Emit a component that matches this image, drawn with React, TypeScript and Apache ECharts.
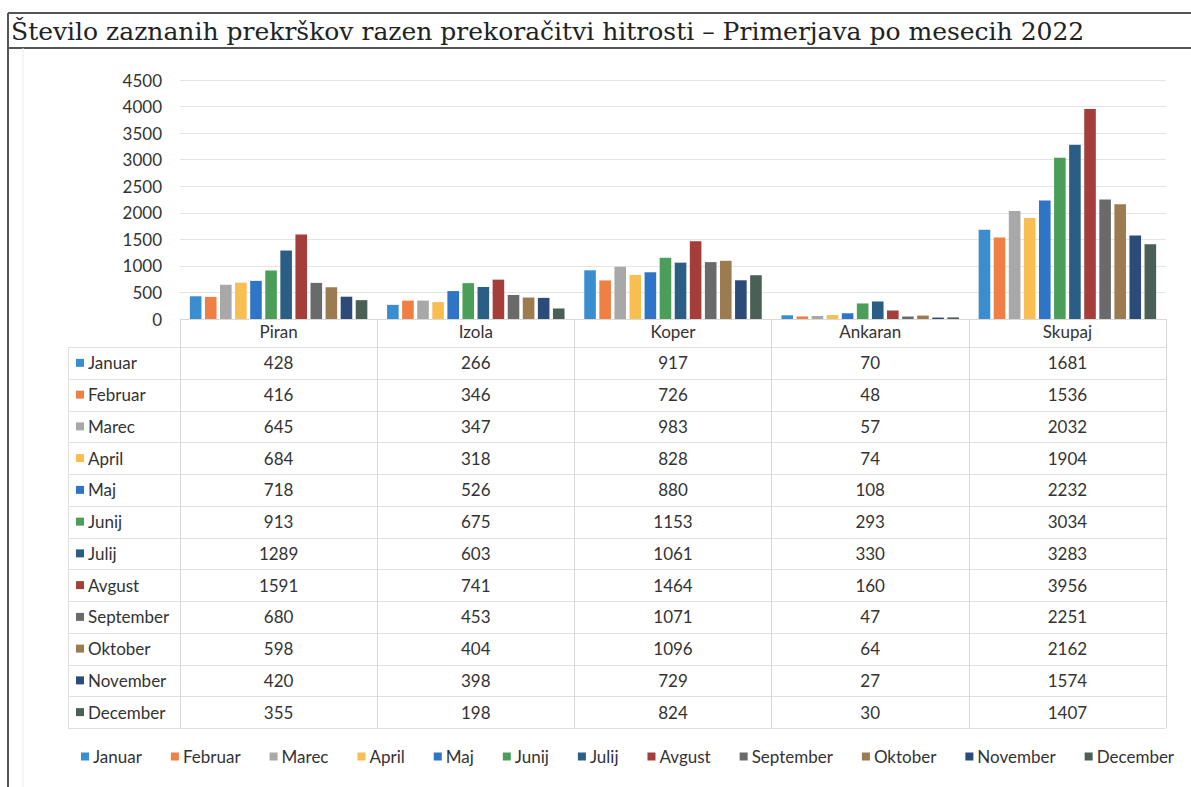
import React, { useEffect, useRef } from "react";
import * as echarts from "echarts";

const titleText = "Število zaznanih prekrškov razen prekoračitvi hitrosti – Primerjava po mesecih 2022";
const categories = ["Piran", "Izola", "Koper", "Ankaran", "Skupaj"];
const months = ["Januar", "Februar", "Marec", "April", "Maj", "Junij", "Julij", "Avgust", "September", "Oktober", "November", "December"];
const piran = [428, 416, 645, 684, 718, 913, 1289, 1591, 680, 598, 420, 355];
const izola = [266, 346, 347, 318, 526, 675, 603, 741, 453, 404, 398, 198];
const koper = [917, 726, 983, 828, 880, 1153, 1061, 1464, 1071, 1096, 729, 824];
const ankaran = [70, 48, 57, 74, 108, 293, 330, 160, 47, 64, 27, 30];
const skupaj = [1681, 1536, 2032, 1904, 2232, 3034, 3283, 3956, 2251, 2162, 1574, 1407];
const columns = [piran, izola, koper, ankaran, skupaj];
const colors = ["#3a8ed0", "#f07f45", "#a8a8a8", "#f8be52", "#2e75c8", "#4a9e5a", "#2b5e85", "#a33e3a", "#6a6a6a", "#9c7b50", "#2d4b78", "#4a5f55"];
const yTicks = { min: 0, max: 4500, interval: 500 };

const FONT = "Lato, 'Liberation Sans', sans-serif";
const FS = 17;

export default function App() {
  const ref = useRef<HTMLDivElement>(null);
  useEffect(() => {
    if (!ref.current) return;
    const chart = echarts.init(ref.current, undefined, { renderer: "svg" });
    const gridTop = 80;
    const gridBottomY = 319;
    const tableBottom = 728;
    const series = months.map((m, i) => ({
      name: m,
      type: "bar",
      data: columns.map((col) => col[i]),
      itemStyle: { color: colors[i] },
      barGap: "30%",
      barCategoryGap: "10%",
    }));
    chart.setOption({
      animation: false,
      backgroundColor: "#ffffff",
      textStyle: { fontFamily: FONT },
      grid: { left: 180, right: 25, top: gridTop, bottom: 787 - gridBottomY },
      xAxis: {
        type: "category",
        data: categories,
        axisLine: { show: true, lineStyle: { color: "#d9d9d9", width: 1 } },
        axisTick: { show: true, alignWithLabel: false, length: tableBottom - gridBottomY, lineStyle: { color: "#d9d9d9" } },
        axisLabel: { fontSize: FS, color: "#333", margin: 4, fontFamily: FONT },
      },
      yAxis: {
        type: "value",
        min: yTicks.min,
        max: yTicks.max,
        interval: yTicks.interval,
        axisLine: { show: false },
        axisTick: { show: false },
        axisLabel: { fontSize: FS, color: "#333", margin: 18, fontFamily: FONT, formatter: (v: number) => String(v) },
        splitLine: { lineStyle: { color: "#e4e4e4" } },
      },
      legend: {
        data: months,
        left: 76,
        top: 743,
        icon: "rect",
        itemWidth: 8,
        itemHeight: 8,
        itemGap: 29,
        textStyle: { fontSize: FS, color: "#333", fontFamily: FONT, padding: [0, 0, 0, -1] },
      },
      series,
    });

    const xs = categories.map((c) => chart.convertToPixel({ xAxisIndex: 0 }, c) as number);
    const tableRight = (chart.convertToPixel({ xAxisIndex: 0 }, categories[categories.length - 1]) as number) + (xs[1] - xs[0]) / 2;
    const tableLeft = 68;
    const firstLine = 347;
    const rowH = (tableBottom - firstLine) / months.length;
    const g: any[] = [];
    // title box
    g.push({ type: "line", shape: { x1: 8, y1: 13, x2: 1191, y2: 13 }, style: { stroke: "#555", lineWidth: 2 } });
    g.push({ type: "line", shape: { x1: 8, y1: 48, x2: 1191, y2: 48 }, style: { stroke: "#555", lineWidth: 2 } });
    g.push({ type: "line", shape: { x1: 8, y1: 13, x2: 8, y2: 787 }, style: { stroke: "#555", lineWidth: 2 } });
    g.push({ type: "line", shape: { x1: 23, y1: 48, x2: 23, y2: 787 }, style: { stroke: "#ececec", lineWidth: 1 } });
    g.push({
      type: "text",
      x: 11,
      y: 31,
      style: { text: titleText, font: "25px 'DejaVu Serif', serif", fill: "#222", textVerticalAlign: "middle" },
    });
    // table horizontal lines
    for (let k = 0; k <= months.length; k++) {
      const y = Math.round(firstLine + k * rowH) + 0.5;
      g.push({ type: "line", shape: { x1: tableLeft, y1: y, x2: tableRight, y2: y }, style: { stroke: "#e0e0e0", lineWidth: 1 } });
    }
    g.push({ type: "line", shape: { x1: tableLeft + 0.5, y1: firstLine, x2: tableLeft + 0.5, y2: tableBottom }, style: { stroke: "#e0e0e0", lineWidth: 1 } });
    months.forEach((m, i) => {
      const cy = firstLine + (i + 0.5) * rowH;
      g.push({ type: "rect", shape: { x: 76, y: cy - 4, width: 8, height: 8 }, style: { fill: colors[i] } });
      g.push({ type: "text", x: 88, y: cy, style: { text: m, font: `${FS}px ${FONT}`, fill: "#333", textVerticalAlign: "middle" } });
      columns.forEach((col, j) => {
        g.push({
          type: "text",
          x: xs[j],
          y: cy,
          style: { text: String(col[i]), font: `${FS}px ${FONT}`, fill: "#333", textAlign: "center", textVerticalAlign: "middle" },
        });
      });
    });
    chart.setOption({ graphic: { elements: g } });
    return () => chart.dispose();
  }, []);
  return <div ref={ref} style={{ position: "fixed", left: 0, top: 0, width: 1191, height: 787, background: "#fff" }} />;
}
